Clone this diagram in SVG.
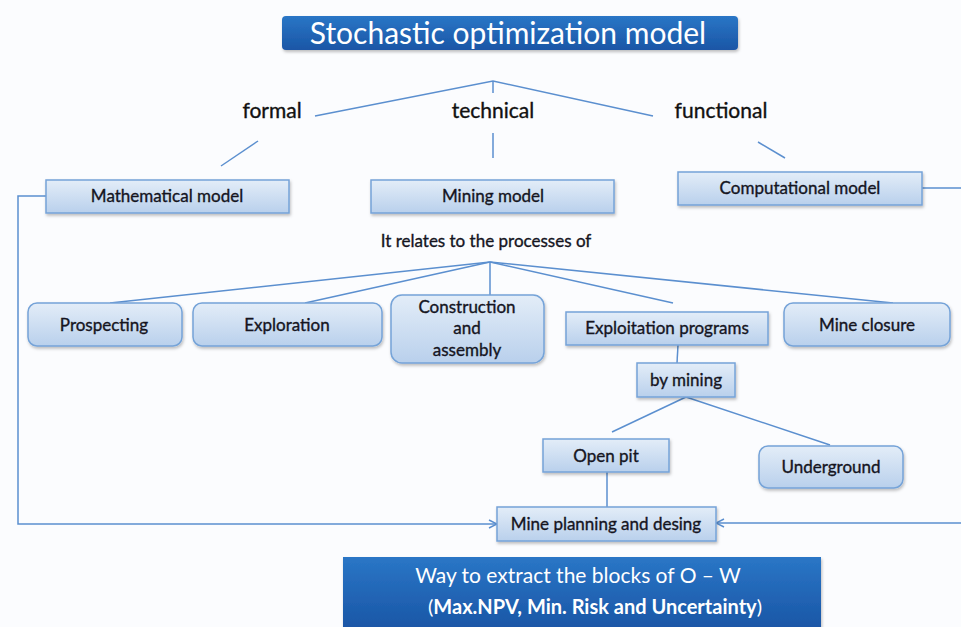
<svg xmlns="http://www.w3.org/2000/svg" width="961" height="627" viewBox="0 0 961 627">
<defs>
<linearGradient id="boxg" x1="0" y1="0" x2="0" y2="1">
<stop offset="0" stop-color="#e3edf8"/>
<stop offset="1" stop-color="#b9d0ec"/>
</linearGradient>
<linearGradient id="darkg" x1="0" y1="0" x2="0" y2="1">
<stop offset="0" stop-color="#2a76c6"/>
<stop offset="1" stop-color="#1a56a6"/>
</linearGradient>
<filter id="sh" x="-10%" y="-20%" width="120%" height="150%">
<feDropShadow dx="1" dy="2" stdDeviation="1.5" flood-color="#000" flood-opacity="0.25"/>
</filter>
<marker id="arr" viewBox="0 0 10 10" refX="9" refY="5" markerWidth="10" markerHeight="10" markerUnits="userSpaceOnUse" orient="auto">
<path d="M1,1 L9,5 L1,9" fill="none" stroke="#5b8fcf" stroke-width="1.5"/>
</marker>
</defs>
<style>
.box{fill:url(#boxg);stroke:#75a3d8;stroke-width:1.5;filter:url(#sh)}
.dark{fill:url(#darkg);filter:url(#sh)}
.t{font-family:Lato,"Open Sans","Liberation Sans",sans-serif;font-size:17px;fill:#15151f;stroke:#15151f;stroke-width:0.35;text-anchor:middle}
.lbl{font-family:Lato,"Open Sans","Liberation Sans",sans-serif;font-size:21px;fill:#111;stroke:#111;stroke-width:0.35;text-anchor:middle}
.w{font-family:Lato,"Open Sans","Liberation Sans",sans-serif;fill:#fff;text-anchor:middle}
.c{fill:none;stroke:#5b8fcf;stroke-width:1.5}
</style>
<rect width="961" height="627" fill="#fbfcfe"/>

<g id="connectors">
<polyline class="c" points="315,116 493,81 653,116"/>
<line class="c" x1="493" y1="81" x2="493" y2="93"/>
<line class="c" x1="493" y1="133" x2="493" y2="158"/>
<line class="c" x1="258" y1="141" x2="221" y2="166"/>
<line class="c" x1="758" y1="142" x2="785" y2="158"/>
<polyline class="c" points="46,196 18,196 18,524 497,524" marker-end="url(#arr)"/>
<polyline class="c" points="922,188 965,188 965,523 716,523" marker-end="url(#arr)"/>
<line class="c" x1="490" y1="262" x2="110" y2="303"/>
<line class="c" x1="490" y1="262" x2="305" y2="303"/>
<line class="c" x1="490" y1="262" x2="490" y2="295"/>
<line class="c" x1="490" y1="262" x2="673" y2="303"/>
<line class="c" x1="490" y1="262" x2="893" y2="303"/>
<line class="c" x1="678" y1="345" x2="677" y2="363"/>
<line class="c" x1="686" y1="397" x2="612" y2="432"/>
<line class="c" x1="686" y1="397" x2="830" y2="445"/>
<line class="c" x1="607" y1="472" x2="607" y2="507"/>
</g>

<g id="title">
<rect class="dark" x="282" y="16" width="456" height="34" rx="4"/>
<text class="w" x="508" y="44" font-size="30">Stochastic optimization model</text>
</g>

<g id="formal"><text class="lbl" x="272" y="118">formal</text></g>
<g id="technical"><text class="lbl" x="493" y="118">technical</text></g>
<g id="functional"><text class="lbl" x="721" y="118">functional</text></g>

<g id="mathematical">
<rect class="box" x="46" y="180" width="243" height="33"/>
<text class="t" x="167" y="202">Mathematical model</text>
</g>
<g id="mining">
<rect class="box" x="371" y="180" width="243" height="33"/>
<text class="t" x="493" y="202">Mining model</text>
</g>
<g id="computational">
<rect class="box" x="678" y="172" width="244" height="33"/>
<text class="t" x="800" y="194">Computational model</text>
</g>

<g id="relates"><text class="t" x="486" y="247" font-size="18">It relates to the processes of</text></g>

<g id="prospecting">
<rect class="box" x="28" y="303" width="154" height="43" rx="9"/>
<text class="t" x="104" y="331">Prospecting</text>
</g>
<g id="exploration">
<rect class="box" x="193" y="303" width="189" height="43" rx="9"/>
<text class="t" x="287" y="331">Exploration</text>
</g>
<g id="construction">
<rect class="box" x="391" y="295" width="153" height="68" rx="11"/>
<text class="t" x="467" y="313">Construction</text>
<text class="t" x="467" y="334">and</text>
<text class="t" x="467" y="356">assembly</text>
</g>
<g id="exploitation">
<rect class="box" x="566" y="312" width="202" height="33"/>
<text class="t" x="667" y="334">Exploitation programs</text>
</g>
<g id="closure">
<rect class="box" x="784" y="303" width="166" height="43" rx="9"/>
<text class="t" x="867" y="331">Mine closure</text>
</g>
<g id="bymining">
<rect class="box" x="637" y="363" width="98" height="34"/>
<text class="t" x="686" y="386">by mining</text>
</g>
<g id="openpit">
<rect class="box" x="543" y="439" width="126" height="33"/>
<text class="t" x="606" y="462">Open pit</text>
</g>
<g id="underground">
<rect class="box" x="759" y="446" width="144" height="42" rx="9"/>
<text class="t" x="831" y="473">Underground</text>
</g>
<g id="planning">
<rect class="box" x="497" y="507" width="219" height="34"/>
<text class="t" x="606" y="530">Mine planning and  desing</text>
</g>

<g id="result">
<rect class="dark" x="343" y="557" width="478" height="72"/>
<text class="w" x="578" y="583" font-size="21">Way to extract the blocks of O – W</text>
<text class="w" x="595" y="614" font-size="20">(<tspan font-weight="bold">Max.NPV, Min. Risk and Uncertainty</tspan>)</text>
</g>
</svg>
